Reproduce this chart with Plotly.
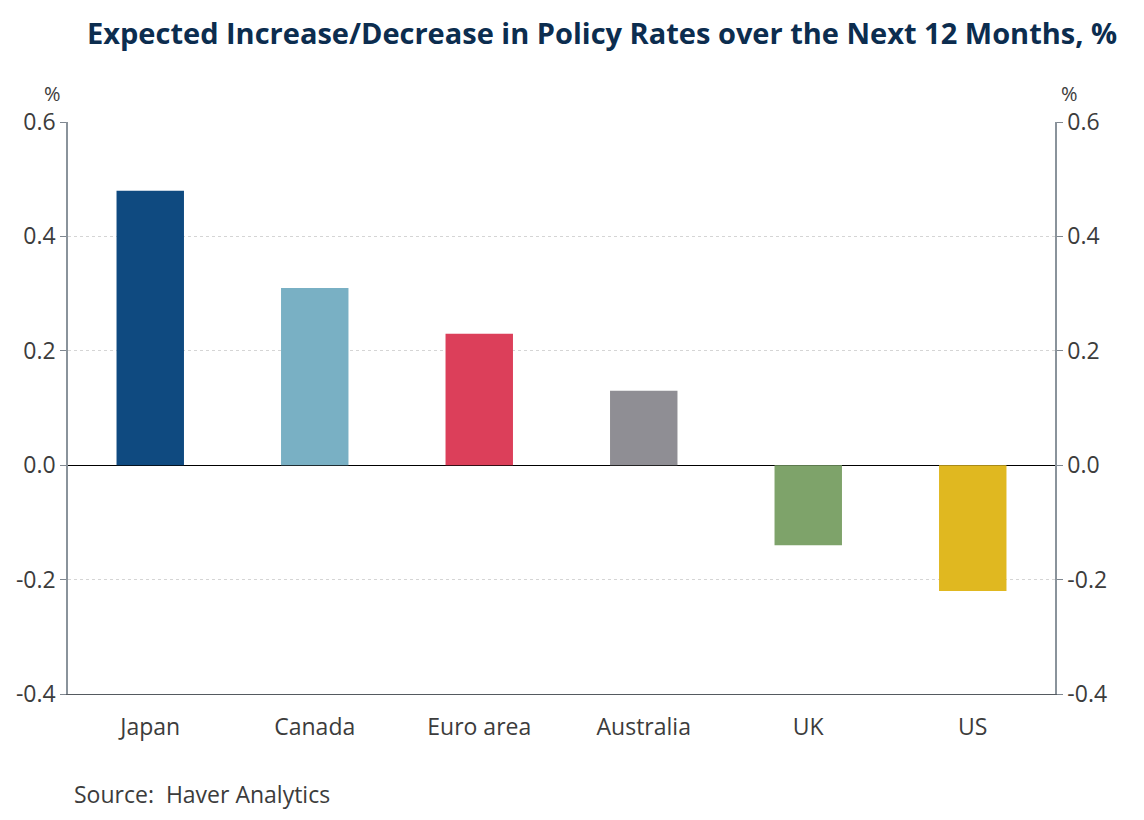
import plotly.graph_objects as go

categories = ["Japan", "Canada", "Euro area", "Australia", "UK", "US"]
values = [0.48, 0.31, 0.23, 0.13, -0.14, -0.22]
colors = ["#0f4a80", "#79b0c4", "#dc3f5a", "#8f8e94", "#7ea36a", "#e0b820"]
yticks = [-0.4, -0.2, 0.0, 0.2, 0.4, 0.6]
ytick_text = ["-0.4", "-0.2", "0.0", "0.2", "0.4", "0.6"]

FONT = "Open Sans"
TXT = "#3c3c3c"

fig = go.Figure()
fig.add_trace(go.Bar(x=categories, y=values, marker_color=colors, marker_line_width=0,
                     width=0.41, showlegend=False, hoverinfo="x+y"))
fig.add_trace(go.Scatter(x=categories, y=values, yaxis="y2", mode="markers",
                         marker=dict(opacity=0), showlegend=False, hoverinfo="skip"))

axis_common = dict(range=[-0.4, 0.6], tickvals=yticks, ticktext=ytick_text,
                   ticks="outside", ticklen=6, tickcolor="#7f8790",
                   showline=True, linecolor="#8a939b", linewidth=1.5,
                   tickfont=dict(family=FONT, size=23, color=TXT))

fig.update_layout(
    width=1144, height=820,
    margin=dict(l=68, r=89, t=122, b=126),
    paper_bgcolor="white", plot_bgcolor="white",
    bargap=0.59,
    xaxis=dict(showline=True, linecolor="#555a60", linewidth=1, ticks="",
               tickfont=dict(family=FONT, size=23, color=TXT), showgrid=False,
               ticklabelstandoff=12, mirror=False),
    yaxis=dict(**axis_common, showgrid=True, gridcolor="#d5d5d5", griddash="dot",
               gridwidth=1, zeroline=True, zerolinecolor="#000000", zerolinewidth=1,
               side="left"),
    yaxis2=dict(**axis_common, overlaying="y", side="right", showgrid=False,
                zeroline=False),
    font=dict(family=FONT),
)

fig.add_annotation(text="<b>Expected Increase/Decrease in Policy Rates over the Next 12 Months, %</b>",
                   xref="paper", yref="paper", x=(602 - 68) / 987, y=1 + (122 - 32) / 572,
                   xanchor="center", yanchor="middle", showarrow=False,
                   font=dict(family=FONT, size=29, color="#0c2d4f"))
fig.add_annotation(text="%", xref="paper", yref="paper", x=(52 - 68) / 987, y=1 + (122 - 93) / 572,
                   xanchor="center", yanchor="middle", showarrow=False,
                   font=dict(family=FONT, size=20, color=TXT))
fig.add_annotation(text="%", xref="paper", yref="paper", x=(1069 - 68) / 987, y=1 + (122 - 93) / 572,
                   xanchor="center", yanchor="middle", showarrow=False,
                   font=dict(family=FONT, size=20, color=TXT))
fig.add_annotation(text="Source:  Haver Analytics", xref="paper", yref="paper",
                   x=(72 - 68) / 987, y=-(794 - 694) / 572,
                   xanchor="left", yanchor="middle", showarrow=False,
                   font=dict(family=FONT, size=23, color=TXT))

fig.write_html("out.html")
